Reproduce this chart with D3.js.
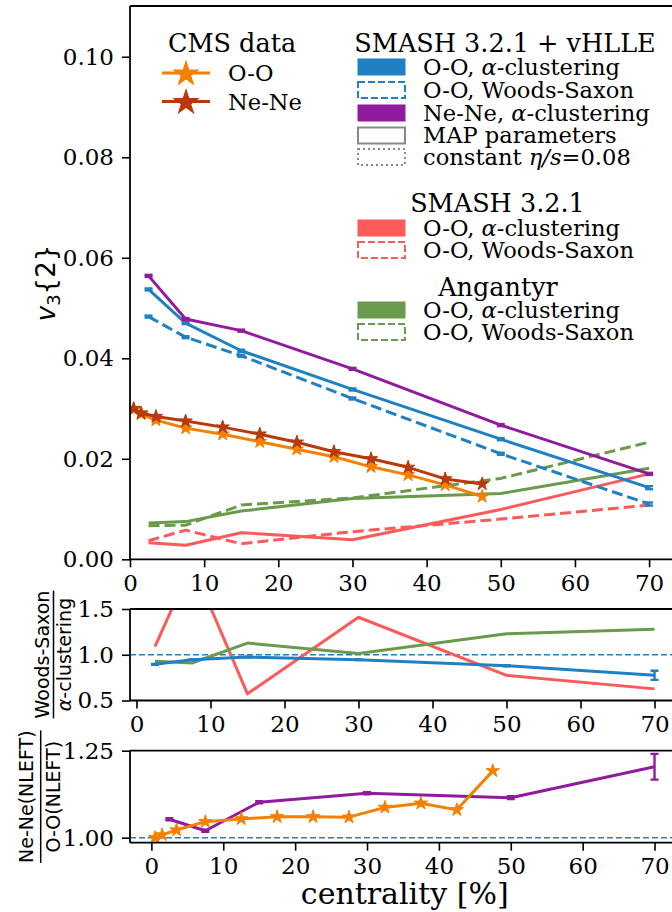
<!DOCTYPE html>
<html><head><meta charset="utf-8">
<script src="https://cdn.jsdelivr.net/npm/d3@7"></script>
<style>body{margin:0;background:#fff}svg{display:block}</style>
</head><body>
<svg id="c" width="672" height="912"></svg>
<script>
// ---------------- data ----------------
const cent = [2.5, 7.5, 15, 30, 50, 70];
const vhlleOOalpha = [0.0537, 0.0470, 0.0415, 0.0338, 0.0239, 0.01425];
const vhlleOOalphaErr = [0.0002, 0.0002, 0.0002, 0.0002, 0.0002, 0.0003];
const vhlleOOws = [0.0483, 0.0442, 0.0405, 0.0320, 0.0210, 0.0110];
const vhlleOOwsErr = [0.0002, 0.0002, 0.0002, 0.0002, 0.0002, 0.0003];
const vhlleNeNe = [0.0564, 0.0478, 0.0455, 0.0379, 0.0267, 0.0170];
const vhlleNeNeErr = [0.0002, 0.0002, 0.0002, 0.0002, 0.0002, 0.0002];
const smashOOalpha = [0.0033, 0.0028, 0.0053, 0.0039, 0.0099, 0.0170];
const smashOOws = [0.0037, 0.0058, 0.0031, 0.0055, 0.0080, 0.0108];
const angOOalpha = [0.0072, 0.0075, 0.0096, 0.0121, 0.0131, 0.0181];
const angOOws = [0.0067, 0.0068, 0.0108, 0.0122, 0.0161, 0.0233];

const cmsCent = [0.5, 1.5, 3.5, 7.5, 12.5, 17.5, 22.5, 27.5, 32.5, 37.5, 42.5, 47.5];
const cmsOO = [0.0298, 0.0289, 0.0277, 0.0261, 0.0249, 0.0234, 0.0219, 0.0204, 0.0184, 0.0168, 0.0148, 0.0125];
const cmsNeNe = [0.0300, 0.0291, 0.0284, 0.0275, 0.0263, 0.0249, 0.0233, 0.0214, 0.0200, 0.0183, 0.0160, 0.0150];

// ratio Woods-Saxon / alpha-clustering
const ratioVhlle = [0.895, 0.945, 0.975, 0.945, 0.88, 0.775];
const ratioVhlleErr = [0.004, 0.004, 0.004, 0.004, 0.006, 0.05];
const ratioSmash = [1.09, 1.99, 0.573, 1.41, 0.775, 0.627];
const ratioAng = [0.93, 0.91, 1.128, 1.013, 1.23, 1.28];

// ratio Ne-Ne / O-O
const ratioNeOOmodel = [1.053, 1.020, 1.102, 1.128, 1.115, 1.204];
const ratioNeOOmodelErr = [0.003, 0.003, 0.003, 0.003, 0.004, 0.037];
const ratioNeOOcms = [1.000, 1.008, 1.022, 1.046, 1.054, 1.060, 1.060, 1.059, 1.087, 1.099, 1.080, 1.192];

const xTicks = [0, 10, 20, 30, 40, 50, 60, 70];
const mainYTicks = [0, 0.02, 0.04, 0.06, 0.08, 0.10];
const midYTicks = [0.5, 1.0, 1.5];
const botYTicks = [1.00, 1.25];

// ---------------- style ----------------
const C = {
  blue: "#1f80c4", purple: "#911b9e", red: "#ff5a5a", green: "#6a9a4b",
  orange: "#f58000", nene: "#b8390b", gray: "#888888"
};
const SERIF = "DejaVu Serif";
const SANS = "DejaVu Sans";
const TICKFS = 23, LEGFS = 22.6, TITLEFS = 25.5;
const svg = d3.select("#c");
const L = 130, R = 679.5;

function starPath(r) {
  const pts = [];
  for (let i = 0; i < 10; i++) {
    const a = -Math.PI / 2 + i * Math.PI / 5;
    const rr = i % 2 ? r * 0.381966 : r;
    pts.push([rr * Math.cos(a), rr * Math.sin(a)]);
  }
  return "M" + pts.map(p => p[0].toFixed(2) + "," + p[1].toFixed(2)).join("L") + "Z";
}

function panel(id, xDom, yDom, top, bottom, yFmt, yTicks) {
  const x = d3.scaleLinear().domain(xDom).range([L, R]);
  const y = d3.scaleLinear().domain(yDom).range([bottom, top]);
  const g = svg.append("g");
  svg.append("clipPath").attr("id", id).append("rect")
    .attr("x", L).attr("y", top).attr("width", R - L).attr("height", bottom - top);
  const plot = g.append("g").attr("clip-path", `url(#${id})`);
  const ax = g.append("g").attr("transform", `translate(0,${bottom})`)
    .call(d3.axisBottom(x).tickValues(xTicks).tickSize(8).tickPadding(7).tickFormat(d3.format("d")));
  const ay = g.append("g").attr("transform", `translate(${L},0)`)
    .call(d3.axisLeft(y).tickValues(yTicks).tickSize(8).tickPadding(8).tickFormat(d3.format(yFmt)));
  [ax, ay].forEach(a => {
    a.select(".domain").remove();
    a.selectAll("line").attr("stroke", "#000").attr("stroke-width", 1.6);
    a.selectAll("text").attr("font-family", SERIF).attr("font-size", TICKFS).attr("fill", "#000");
  });
  const sp = g.append("g").attr("fill", "none").attr("stroke", "#000").attr("stroke-width", 1.8);
  sp.append("line").attr("x1", L).attr("x2", L).attr("y1", top).attr("y2", bottom);
  sp.append("line").attr("x1", L).attr("x2", R + 5).attr("y1", top).attr("y2", top);
  sp.append("line").attr("x1", L).attr("x2", R + 5).attr("y1", bottom).attr("y2", bottom);
  return {x, y, plot, g};
}

function line(p, xs, ys, color, dash, width) {
  const data = xs.map((d, i) => [d, ys[i]]);
  p.plot.append("path").datum(data)
    .attr("d", d3.line().x(d => p.x(d[0])).y(d => p.y(d[1])))
    .attr("fill", "none").attr("stroke", color).attr("stroke-width", width || 3)
    .attr("stroke-dasharray", dash || null).attr("stroke-linejoin", "round");
}
function errbars(p, xs, ys, es, color, capw) {
  const g = p.plot.append("g").attr("stroke", color).attr("stroke-width", 2.4);
  xs.forEach((xv, i) => {
    const cx = p.x(xv), y1 = p.y(ys[i] - es[i]), y2 = p.y(ys[i] + es[i]);
    g.append("line").attr("x1", cx).attr("x2", cx).attr("y1", y1).attr("y2", y2);
    g.append("line").attr("x1", cx - capw).attr("x2", cx + capw).attr("y1", y1).attr("y2", y1);
    g.append("line").attr("x1", cx - capw).attr("x2", cx + capw).attr("y1", y2).attr("y2", y2);
  });
}
function stars(p, xs, ys, color, r) {
  p.plot.append("g").selectAll("path").data(xs.map((d, i) => [d, ys[i]])).join("path")
    .attr("d", starPath(r)).attr("transform", d => `translate(${p.x(d[0])},${p.y(d[1])})`)
    .attr("fill", color).attr("stroke", color).attr("stroke-width", 1);
}

// ---------------- main panel ----------------
const main = panel("cm", [0, 74.1], [0, 0.1101], 6, 559.3, ".2f", mainYTicks);
const DASH = "11,5";
line(main, cent, smashOOalpha, C.red);
line(main, cent, smashOOws, C.red, DASH);
line(main, cent, angOOalpha, C.green);
line(main, cent, angOOws, C.green, DASH);
line(main, cent, vhlleOOalpha, C.blue);
errbars(main, cent, vhlleOOalpha, vhlleOOalphaErr, C.blue, 4);
line(main, cent, vhlleOOws, C.blue, DASH);
errbars(main, cent, vhlleOOws, vhlleOOwsErr, C.blue, 4);
line(main, cent, vhlleNeNe, C.purple);
errbars(main, cent, vhlleNeNe, vhlleNeNeErr, C.purple, 4);
line(main, cmsCent, cmsOO, C.orange);
stars(main, cmsCent, cmsOO, C.orange, 7);
line(main, cmsCent, cmsNeNe, C.nene);
stars(main, cmsCent, cmsNeNe, C.nene, 7);

// y label
svg.append("text").attr("transform", "translate(55,283) rotate(-90)")
  .attr("text-anchor", "middle").attr("font-family", SANS).attr("font-size", 26)
  .call(t => {
    t.append("tspan").attr("font-style", "italic").text("v");
    t.append("tspan").attr("font-size", 18).attr("dy", 5).text("3");
    t.append("tspan").attr("dy", -5).text("{2}");
  });

// ---------------- legends ----------------
const lg = svg.append("g").attr("font-family", SERIF).attr("font-size", LEGFS).attr("fill", "#000");
function title(x, yc, txt) {
  lg.append("text").attr("x", x).attr("y", yc + 9).attr("text-anchor", "middle")
    .attr("font-size", TITLEFS).text(txt);
}
// CMS legend
title(232, 43, "CMS data");
[["O-O", C.orange, 73], ["Ne-Ne", C.nene, 101.5]].forEach(([lab, col, yy]) => {
  lg.append("line").attr("x1", 162).attr("x2", 210).attr("y1", yy).attr("y2", yy)
    .attr("stroke", col).attr("stroke-width", 3);
  lg.append("path").attr("d", starPath(14.5)).attr("transform", `translate(186,${yy + 1})`).attr("fill", col);
  lg.append("text").attr("x", 228).attr("y", yy + 8).text(lab);
});

function richText(sel, parts) {
  parts.forEach(p => {
    const ts = sel.append("tspan").text(p[0]);
    if (p[1]) ts.attr("font-style", "italic");
  });
}
function patchEntry(yy, col, kind, parts) {
  const r = lg.append("rect").attr("x", 358).attr("y", yy - 8).attr("width", 47).attr("height", 16);
  if (kind === "fill") r.attr("fill", col).attr("stroke", col).attr("stroke-width", 1);
  else if (kind === "dash") r.attr("fill", "#fff").attr("stroke", col).attr("stroke-width", 2).attr("stroke-dasharray", "7,3");
  else if (kind === "solid") r.attr("fill", "#fff").attr("stroke", col).attr("stroke-width", 2);
  else r.attr("fill", "#fff").attr("stroke", col).attr("stroke-width", 2).attr("stroke-dasharray", "2,3");
  richText(lg.append("text").attr("x", 423).attr("y", yy + 7.5), parts);
}
title(505, 43, "SMASH 3.2.1 + vHLLE");
patchEntry(67, C.blue, "fill", [["O-O, "], ["α", 1], ["-clustering"]]);
patchEntry(90, C.blue, "dash", [["O-O, Woods-Saxon"]]);
patchEntry(113, C.purple, "fill", [["Ne-Ne, "], ["α", 1], ["-clustering"]]);
patchEntry(135.5, C.gray, "solid", [["MAP parameters"]]);
patchEntry(157, C.gray, "dot", [["constant "], ["η/s", 1], ["=0.08"]]);
title(497.5, 203, "SMASH 3.2.1");
patchEntry(228, C.red, "fill", [["O-O, "], ["α", 1], ["-clustering"]]);
patchEntry(250, C.red, "dash", [["O-O, Woods-Saxon"]]);
title(498, 287, "Angantyr");
patchEntry(310, C.green, "fill", [["O-O, "], ["α", 1], ["-clustering"]]);
patchEntry(332, C.green, "dash", [["O-O, Woods-Saxon"]]);

// ---------------- middle ratio panel ----------------
const mid = panel("cmid", [-0.875, 73.375], [0.5, 1.5], 609, 700.5, ".1f", midYTicks);
mid.plot.append("line").attr("x1", L).attr("x2", R).attr("y1", mid.y(1)).attr("y2", mid.y(1))
  .attr("stroke", C.blue).attr("stroke-width", 1.5).attr("stroke-dasharray", "6,3");
line(mid, cent, ratioSmash, C.red);
line(mid, cent, ratioAng, C.green);
line(mid, cent, ratioVhlle, C.blue);
errbars(mid, cent, ratioVhlle, ratioVhlleErr, C.blue, 4);

function fracLabel(cy, num, den, numBase, lineX, denBase) {
  const g = svg.append("g").attr("font-family", SANS).attr("font-size", 19).attr("fill", "#000");
  const t1 = g.append("text").attr("transform", `translate(${numBase},${cy}) rotate(-90)`).attr("text-anchor", "middle");
  richText(t1, num);
  const t2 = g.append("text").attr("transform", `translate(${denBase},${cy}) rotate(-90)`).attr("text-anchor", "middle");
  richText(t2, den);
  const w = Math.max(t1.node().getComputedTextLength(), t2.node().getComputedTextLength());
  g.append("line").attr("x1", lineX).attr("x2", lineX).attr("y1", cy - w / 2).attr("y2", cy + w / 2)
    .attr("stroke", "#000").attr("stroke-width", 1.5);
}
fracLabel(654.5, [["Woods-Saxon"]], [["α", 1], ["-clustering"]], 49, 53.5, 71);

// ---------------- bottom ratio panel ----------------
const bot = panel("cbot", [-2.975, 73.475], [0.9856, 1.25], 750.7, 842.7, ".2f", botYTicks);
bot.plot.append("line").attr("x1", L).attr("x2", R).attr("y1", bot.y(1)).attr("y2", bot.y(1))
  .attr("stroke", C.blue).attr("stroke-width", 1.5).attr("stroke-dasharray", "6,3");
line(bot, cent, ratioNeOOmodel, C.purple);
errbars(bot, cent, ratioNeOOmodel, ratioNeOOmodelErr, C.purple, 4);
line(bot, cmsCent, ratioNeOOcms, C.orange);
stars(bot, cmsCent, ratioNeOOcms, C.orange, 7);
fracLabel(796.7, [["Ne-Ne(NLEFT)"]], [["O-O(NLEFT)"]], 33, 40.7, 60);

svg.append("text").attr("x", (L + R) / 2).attr("y", 904).attr("text-anchor", "middle")
  .attr("font-family", SERIF).attr("font-size", 30).text("centrality [%]");
</script>
</body></html>
